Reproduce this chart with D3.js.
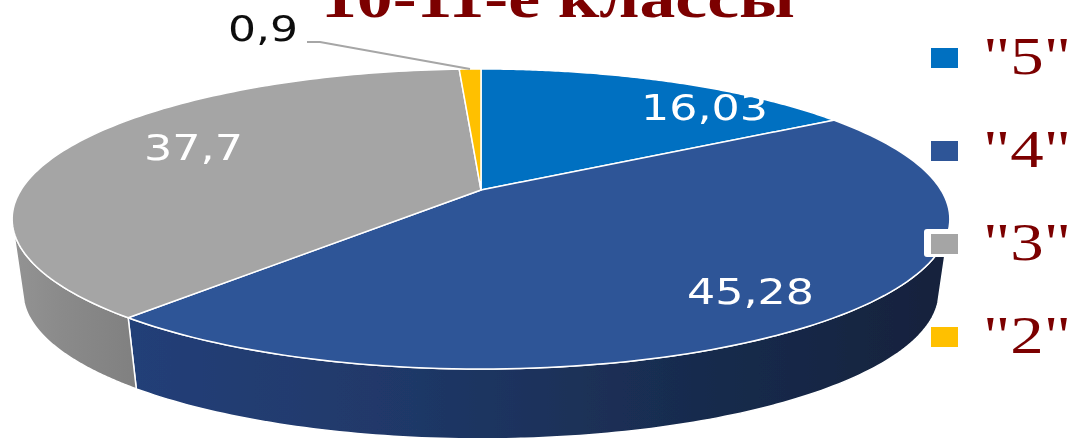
<!DOCTYPE html>
<html>
<head>
  <meta charset="utf-8">
  <title>10-11-е классы</title>
  <script src="https://d3js.org/d3.v7.min.js"></script>
  <style>
    html, body { margin: 0; padding: 0; background: #fff; overflow: hidden; }
    .title { font-family: "Liberation Serif", serif; font-weight: bold; font-size: 56px; fill: #7b0000; text-anchor: middle; }
    .legend-label { font-family: "Liberation Serif", serif; font-size: 52px; fill: #7b0000; }
    .value { font-family: "DejaVu Sans", sans-serif; font-size: 35px; fill: #fff; }
    .slice, .wall { stroke: #fff; stroke-width: 1.5; stroke-linejoin: round; }
  </style>
</head>
<body>
  <div id="chart"></div>
  <script>
    const categories = ['"5"', '"4"', '"3"', '"2"'];
    const values = [16.03, 45.28, 37.7, 0.9];
    const valueLabels = ["16,03", "45,28", "37,7", "0,9"];
    const colors = ["#0170c1", "#2f5597", "#a5a5a5", "#ffc000"];
    const titleText = "10-11-е классы";

    const width = 1073, height = 438;

    // tilted disc: perspective projection of the unit circle
    const center = {x: 481, y: 190}, radiusX = 460, radiusY = 144.4, tilt = 0.1933;
    const depth = 74, shrink = 0.977;
    const wallRange = [105, 255].map(d => d * Math.PI / 180);

    // hand placed, the labels do not follow a rule in the original
    const labelPos = [
      {x: 641, y: 120, w: 127, color: "#fff"},
      {x: 687, y: 304, w: 127, color: "#fff"},
      {x: 144, y: 160, w: 99, color: "#fff"},
      {x: 228, y: 41, w: 70, color: "#111"}
    ];
    const leader = [[307, 42], [320, 42], [470, 69]];

    const project = (a, bottom) => {
      const u = Math.sin(a), v = -Math.cos(a), w = 1 - tilt * v;
      const s = bottom ? shrink : 1;
      return [
        center.x + s * radiusX * u / w,
        center.y + (bottom ? depth : 0) + s * radiusY * v / w
      ];
    };

    const arcPoints = (a0, a1, bottom) =>
      d3.range(0, 121).map(i => project(a0 + (a1 - a0) * i / 120, bottom));

    const svg = d3.select("#chart").append("svg")
      .attr("width", width)
      .attr("height", height)
      .style("display", "block");

    const defs = svg.append("defs");
    defs.append("filter").attr("id", "soft")
      .append("feGaussianBlur").attr("stdDeviation", 0.5);

    const wallGradient = (id, x1, x2, stops) => {
      const g = defs.append("linearGradient").attr("id", id)
        .attr("gradientUnits", "userSpaceOnUse")
        .attr("x1", x1).attr("x2", x2).attr("y1", 0).attr("y2", 0);
      stops.forEach(s => g.append("stop").attr("offset", s[0]).attr("stop-color", s[1]));
    };
    wallGradient("wall-blue", 130, 950, [[0, "#213f78"], [0.3, "#20396a"], [0.7, "#182b4d"], [1, "#13223c"]]);
    wallGradient("wall-gray", 14, 137, [[0, "#939393"], [0.4, "#8a8a8a"], [1, "#808080"]]);

    const line = d3.line();
    const pieData = d3.pie().sort(null).value(d => d)(values);
    const root = svg.append("g").attr("filter", "url(#soft)");

    // side walls first, only the front part is visible
    const wallFill = ["url(#wall-blue)", "url(#wall-blue)", "url(#wall-gray)", "none"];
    pieData.forEach((d, i) => {
      const a0 = Math.max(d.startAngle, wallRange[0]);
      const a1 = Math.min(d.endAngle, wallRange[1]);
      if (a1 <= a0) return;
      root.append("path")
        .attr("class", "wall")
        .attr("fill", wallFill[i])
        .attr("d", line([...arcPoints(a0, a1, false), ...arcPoints(a1, a0, true)]) + "Z");
    });

    // top face
    root.selectAll(".slice")
      .data(pieData)
      .enter()
      .append("path")
        .attr("class", "slice")
        .attr("fill", (d, i) => colors[i])
        .attr("d", d => line([[center.x, center.y], ...arcPoints(d.startAngle, d.endAngle, false)]) + "Z");

    root.append("path")
      .attr("d", line(leader))
      .attr("fill", "none")
      .attr("stroke", "#a6a6a6")
      .attr("stroke-width", 2);

    root.selectAll(".value")
      .data(valueLabels)
      .enter()
      .append("text")
        .attr("class", "value")
        .attr("x", (d, i) => labelPos[i].x)
        .attr("y", (d, i) => labelPos[i].y)
        .attr("textLength", (d, i) => labelPos[i].w)
        .attr("lengthAdjust", "spacingAndGlyphs")
        .style("fill", (d, i) => labelPos[i].color)
        .text(d => d);

    root.append("text")
      .attr("class", "title")
      .attr("x", 558)
      .attr("y", 17)
      .attr("textLength", 474)
      .attr("lengthAdjust", "spacingAndGlyphs")
      .text(titleText);

    // legend
    const legendY = d3.scalePoint().domain(categories).range([58, 337]);

    root.append("rect")
      .attr("x", 924).attr("y", 229)
      .attr("width", 38).attr("height", 28)
      .attr("rx", 3)
      .attr("fill", "#fff");

    const legend = root.selectAll(".legend")
      .data(categories)
      .enter()
      .append("g")
        .attr("class", "legend")
        .attr("transform", d => `translate(931,${legendY(d)})`);

    legend.append("rect")
      .attr("y", -10)
      .attr("width", 27)
      .attr("height", 20)
      .attr("fill", (d, i) => colors[i]);

    legend.append("text")
      .attr("class", "legend-label")
      .attr("x", 52)
      .attr("y", 16)
      .attr("textLength", 88)
      .attr("lengthAdjust", "spacingAndGlyphs")
      .text(d => d);
  </script>
</body>
</html>
